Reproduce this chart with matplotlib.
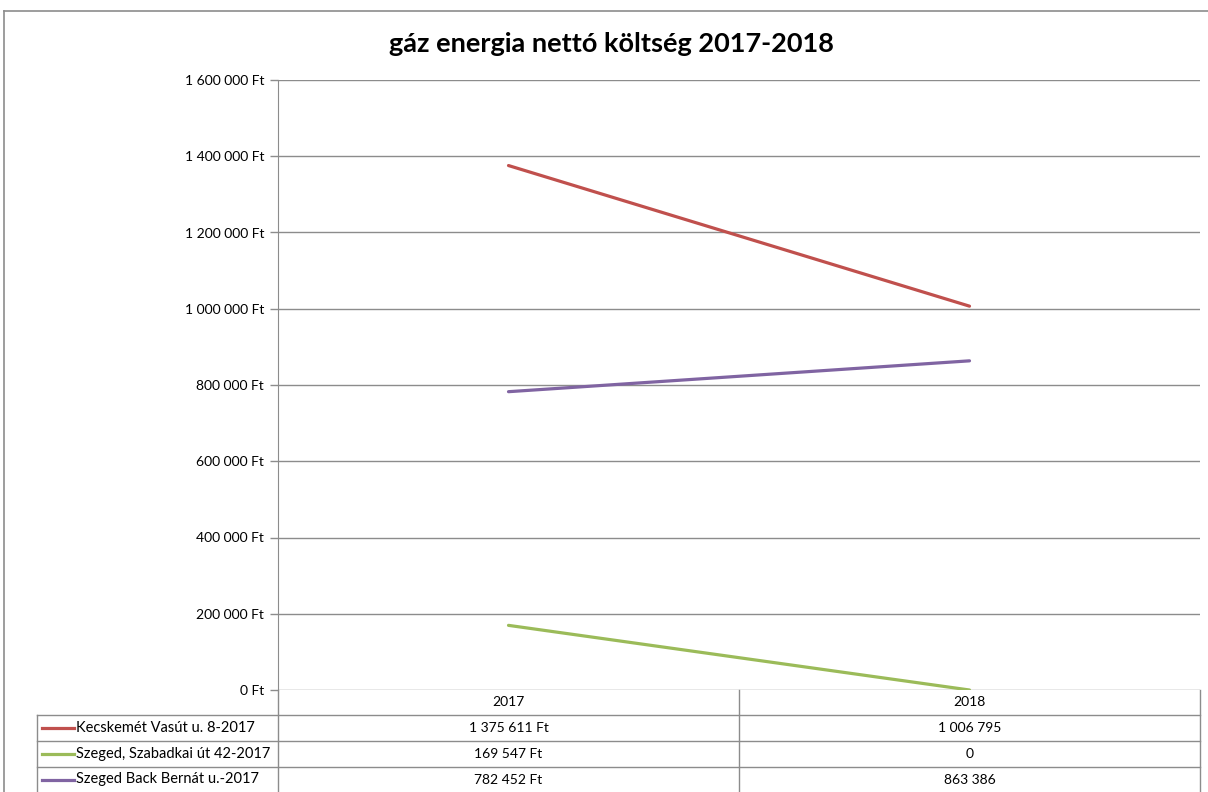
import matplotlib
matplotlib.use("Agg")
import matplotlib.pyplot as plt
from matplotlib.lines import Line2D
from matplotlib.ticker import FuncFormatter
from matplotlib.transforms import blended_transform_factory

years = ["2017", "2018"]
series_names = ["Kecskemét Vasút u. 8-2017", "Szeged, Szabadkai út 42-2017", "Szeged Back Bernát u.-2017"]
kecskemet = [1375611, 1006795]
szabadkai = [169547, 0]
back_bernat = [782452, 863386]
colors = ["#C0504D", "#9BBB59", "#8064A2"]
y_ticks = [0, 200000, 400000, 600000, 800000, 1000000, 1200000, 1400000, 1600000]

W, H = 1208, 792
plt.rcParams["font.family"] = ["Lato", "DejaVu Sans"]
grid_c = "#8c8c8c"
fs = 10


def fx(x):
    return x / W


def fy(y):
    return 1 - y / H


def thousands(v):
    return f"{int(v):,}".replace(",", " ")


fig = plt.figure(figsize=(W / 100, H / 100), dpi=100)
ax = fig.add_axes([fx(278), fy(690), fx(1200) - fx(278), fy(80) - fy(690)])

values = [kecskemet, szabadkai, back_bernat]
xs = range(len(years))
for vals, c in zip(values, colors):
    ax.plot(xs, vals, color=c, linewidth=2.3, solid_capstyle="round")

ax.set_xlim(-0.5, len(years) - 0.5)
ax.set_ylim(0, 1600000)
ax.set_yticks(y_ticks)
ax.yaxis.set_major_formatter(FuncFormatter(lambda v, _: f"{thousands(v)} Ft"))
ax.tick_params(axis="y", length=6, width=1, color=grid_c, labelsize=fs, pad=4)
ax.set_xticks([])
ax.grid(axis="y", color=grid_c, linewidth=1)
ax.set_axisbelow(True)
for s in ("top", "right", "bottom"):
    ax.spines[s].set_visible(False)
ax.spines["left"].set_color(grid_c)

fig.text(fx(611), fy(44), "gáz energia nettó költség 2017-2018", ha="center", va="center",
         fontsize=19.5, fontweight="bold")

# outer chart frame
fig.add_artist(Line2D([fx(4), fx(4)], [fy(11), 0], color=grid_c, linewidth=1.2))
fig.add_artist(Line2D([fx(4), 1], [fy(11), fy(11)], color=grid_c, linewidth=1.2))

# data table below the plot
tr = blended_transform_factory(ax.transData, fig.transFigure)
row_y = [690, 715, 741, 767, 792]
for y in row_y[1:4]:
    fig.add_artist(Line2D([fx(37), fx(1200)], [fy(y), fy(y)], color=grid_c, linewidth=1))
fig.add_artist(Line2D([fx(37), fx(37)], [fy(715), 0], color=grid_c, linewidth=1))
for xp in (278, 739, 1200):
    fig.add_artist(Line2D([fx(xp), fx(xp)], [fy(690), 0], color=grid_c, linewidth=1))

for i, yr in enumerate(years):
    fig.text(i, fy((row_y[0] + row_y[1]) / 2), yr, transform=tr, ha="center", va="center", fontsize=fs)

for r, (name, vals, c) in enumerate(zip(series_names, values, colors)):
    yc = fy((row_y[r + 1] + row_y[r + 2]) / 2)
    fig.add_artist(Line2D([fx(42), fx(74)], [yc, yc], color=c, linewidth=2.3))
    fig.text(fx(76), yc, name, ha="left", va="center", fontsize=fs + 0.5)
    for i, v in enumerate(vals):
        label = f"{thousands(v)} Ft" if i == 0 else thousands(v)
        fig.text(i, yc, label, transform=tr, ha="center", va="center", fontsize=fs)

fig.savefig("out.png", dpi=100, facecolor="white")
